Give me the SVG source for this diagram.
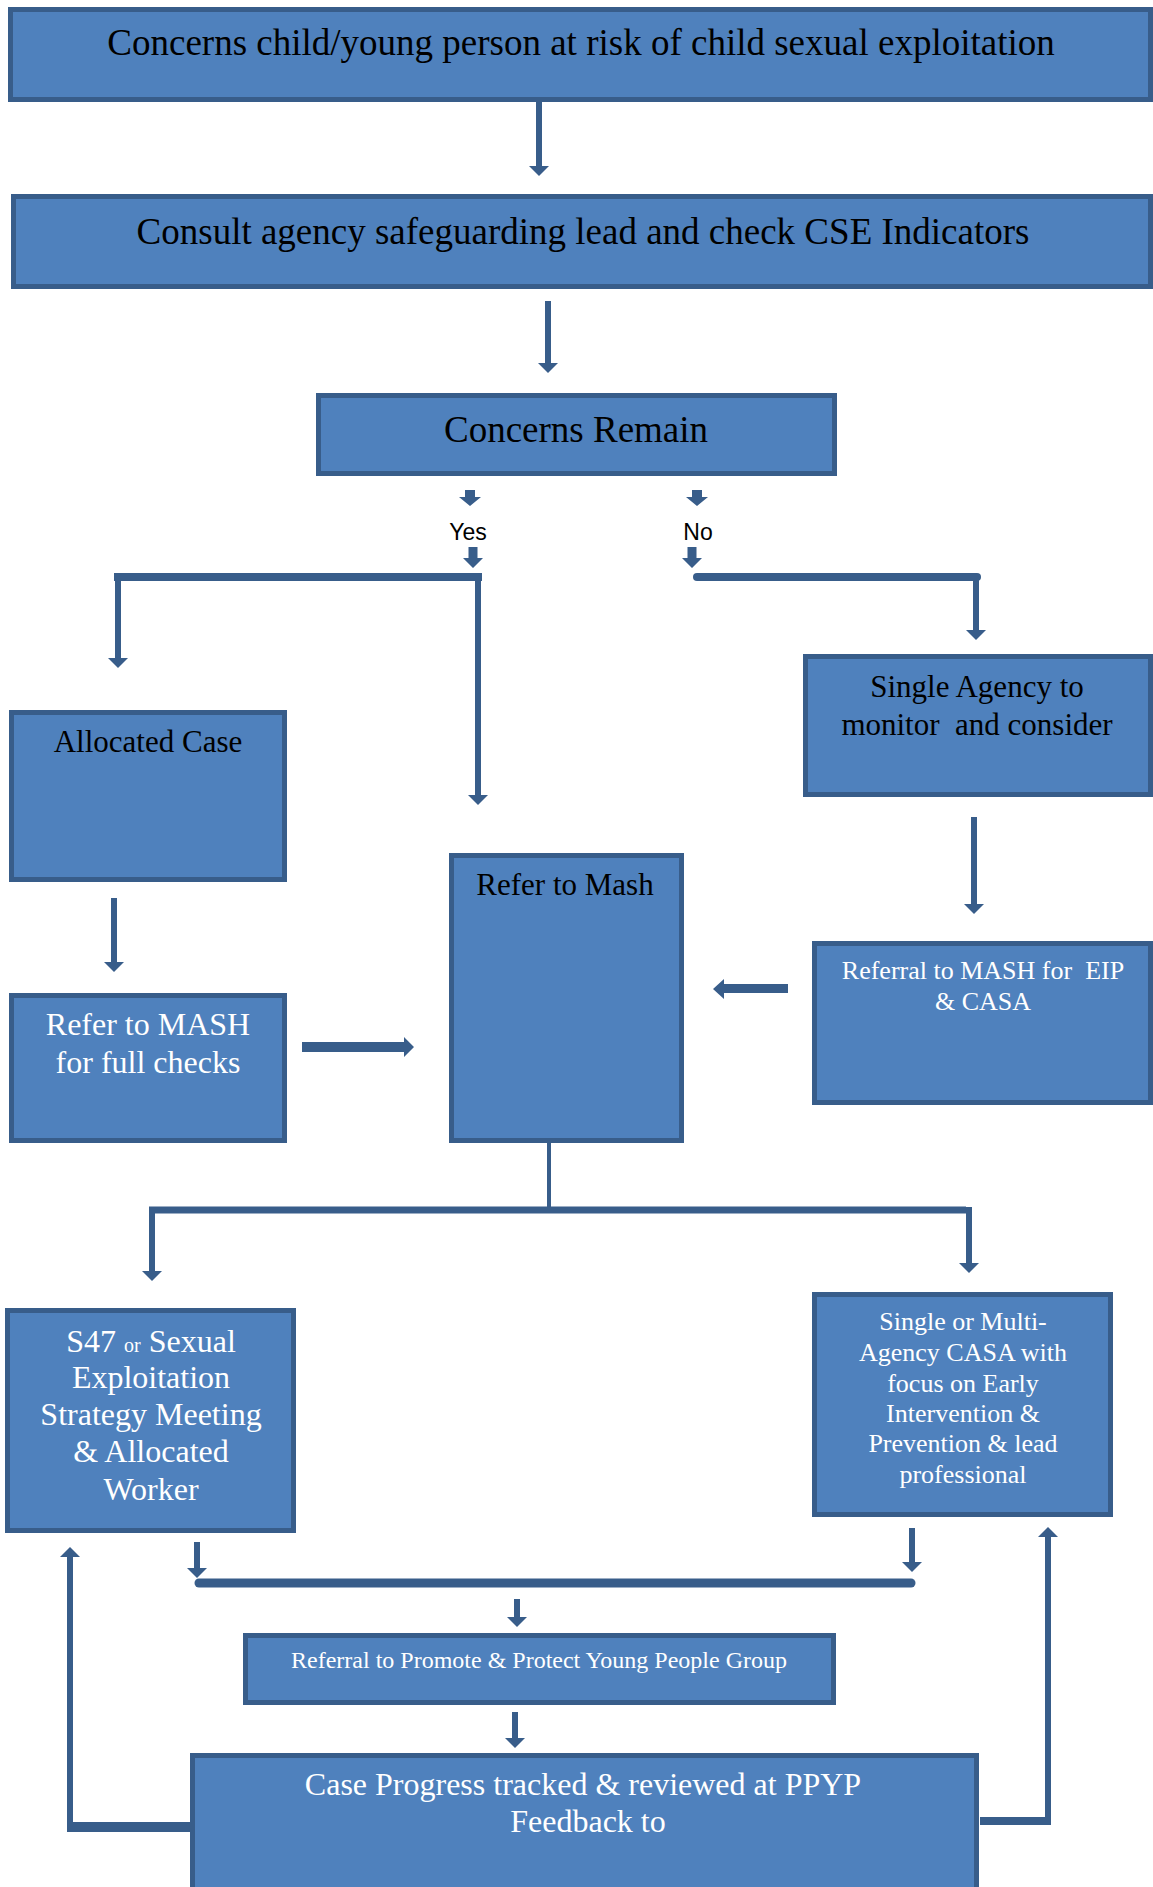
<svg xmlns="http://www.w3.org/2000/svg" width="1153" height="1887" viewBox="0 0 1153 1887">
<defs>
<style>
.box{fill:#4F81BD;stroke:#385D8A;stroke-width:5}
.tb{font-family:"Liberation Serif","Times New Roman",serif;fill:#000;text-anchor:middle}
.tw{font-family:"Liberation Serif","Times New Roman",serif;fill:#fff;text-anchor:middle}
.ts{font-family:"Liberation Sans",Arial,sans-serif;fill:#000;text-anchor:middle}
.ln{stroke:#385D8A;stroke-width:6;fill:none}
.bar{stroke:#385D8A;fill:none}
.fillc{fill:#385D8A}
</style>
<marker id="ah" viewBox="0 0 10 20" refX="0" refY="10" markerWidth="10" markerHeight="20" markerUnits="userSpaceOnUse" orient="auto">
<path d="M0,0 L10,10 L0,20 z" fill="#385D8A"/>
</marker>
</defs>
<rect width="1153" height="1887" fill="#fff"/>

<g id="connectors">
<line class="ln" x1="539" y1="102" x2="539" y2="166" marker-end="url(#ah)"/>
<line class="ln" x1="548" y1="301" x2="548" y2="363" marker-end="url(#ah)"/>
<polygon class="fillc" points="465,490 475,490 475,497 481,497 470,506 459,497 465,497"/>
<polygon class="fillc" points="692,490 702,490 702,497 708,497 697,506 686,497 692,497"/>
<polygon class="fillc" points="468.5,547 477.5,547 477.5,558 483,558 473,568 463,558 468.5,558"/>
<polygon class="fillc" points="687.5,547 696.5,547 696.5,558 702,558 692,568 682,558 687.5,558"/>
<path class="bar" stroke-width="8" d="M114,577 H482"/>
<line class="ln" x1="118" y1="573" x2="118" y2="658" marker-end="url(#ah)"/>
<line class="ln" x1="478" y1="573" x2="478" y2="795" marker-end="url(#ah)"/>
<path class="bar" stroke-width="8" stroke-linecap="round" d="M697,577 H977"/>
<line class="ln" x1="976" y1="577" x2="976" y2="630" marker-end="url(#ah)"/>
<line class="ln" x1="974" y1="817" x2="974" y2="904" marker-end="url(#ah)"/>
<line class="ln" x1="114" y1="898" x2="114" y2="962" marker-end="url(#ah)"/>
<polygon class="fillc" points="302,1042 404,1042 404,1037 414,1047 404,1057 404,1052 302,1052"/>
<polygon class="fillc" points="788,984 724,984 724,979 713,989 724,999 724,993 788,993"/>
<line class="bar" stroke-width="4" x1="549" y1="1143" x2="549" y2="1210"/>
<path class="bar" stroke-width="7" d="M149,1210 H966"/>
<line class="ln" x1="152" y1="1207" x2="152" y2="1271" marker-end="url(#ah)"/>
<line class="ln" x1="969" y1="1207" x2="969" y2="1263" marker-end="url(#ah)"/>
<line class="ln" x1="197" y1="1542" x2="197" y2="1568" marker-end="url(#ah)"/>
<line class="ln" x1="912" y1="1528" x2="912" y2="1562" marker-end="url(#ah)"/>
<path class="bar" stroke-width="9" stroke-linecap="round" d="M199,1583 H911"/>
<line class="ln" x1="517" y1="1599" x2="517" y2="1617" marker-end="url(#ah)"/>
<line class="ln" x1="515" y1="1712" x2="515" y2="1738" marker-end="url(#ah)"/>
<path class="bar" stroke-width="10" d="M192,1827 H70"/>
<line class="ln" x1="70" y1="1832" x2="70" y2="1557" marker-end="url(#ah)"/>
<path class="bar" stroke-width="8" d="M980,1821 H1051"/>
<line class="ln" x1="1048" y1="1825" x2="1048" y2="1537" marker-end="url(#ah)"/>
<text class="ts" x="468" y="540" font-size="23">Yes</text>
<text class="ts" x="698" y="540" font-size="23">No</text>
</g>

<g id="n1">
<rect class="box" x="10.5" y="9.5" width="1140" height="90"/>
<text class="tb" x="581" y="55" font-size="37">Concerns child/young person at risk of child sexual exploitation</text>
</g>
<g id="n2">
<rect class="box" x="13.5" y="196.5" width="1137" height="90"/>
<text class="tb" x="583" y="244" font-size="37">Consult agency safeguarding lead and check CSE Indicators</text>
</g>
<g id="n3">
<rect class="box" x="318.5" y="395.5" width="516" height="78"/>
<text class="tb" x="576" y="442" font-size="37">Concerns Remain</text>
</g>
<g id="n4">
<rect class="box" x="11.5" y="712.5" width="273" height="167"/>
<text class="tb" x="148" y="752" font-size="31">Allocated Case</text>
</g>
<g id="n5">
<rect class="box" x="805.5" y="656.5" width="345" height="138"/>
<text class="tb" x="977" y="697" font-size="31" xml:space="preserve">Single Agency to</text>
<text class="tb" x="977" y="735" font-size="31" xml:space="preserve">monitor  and consider</text>
</g>
<g id="n6">
<rect class="box" x="451.5" y="855.5" width="230" height="285"/>
<text class="tb" x="565" y="895" font-size="31">Refer to Mash</text>
</g>
<g id="n7">
<rect class="box" x="11.5" y="995.5" width="273" height="145"/>
<text class="tw" x="148" y="1035" font-size="32">Refer to MASH</text>
<text class="tw" x="148" y="1073" font-size="32">for full checks</text>
</g>
<g id="n8">
<rect class="box" x="814.5" y="943.5" width="336" height="159"/>
<text class="tw" x="983" y="979" font-size="26" xml:space="preserve">Referral to MASH for  EIP</text>
<text class="tw" x="983" y="1010" font-size="26">&amp; CASA</text>
</g>
<g id="n9">
<rect class="box" x="7.5" y="1310.5" width="286" height="220"/>
<text class="tw" x="151" y="1352" font-size="32">S47 <tspan font-size="20">or</tspan> Sexual</text>
<text class="tw" x="151" y="1388" font-size="32">Exploitation</text>
<text class="tw" x="151" y="1425" font-size="32">Strategy Meeting</text>
<text class="tw" x="151" y="1462" font-size="32">&amp; Allocated</text>
<text class="tw" x="151" y="1500" font-size="32">Worker</text>
</g>
<g id="n10">
<rect class="box" x="814.5" y="1294.5" width="296" height="220"/>
<text class="tw" x="963" y="1330" font-size="26">Single or Multi-</text>
<text class="tw" x="963" y="1361" font-size="26">Agency CASA with</text>
<text class="tw" x="963" y="1392" font-size="26">focus on Early</text>
<text class="tw" x="963" y="1422" font-size="26">Intervention &amp;</text>
<text class="tw" x="963" y="1452" font-size="26">Prevention &amp; lead</text>
<text class="tw" x="963" y="1483" font-size="26">professional</text>
</g>
<g id="n11">
<rect class="box" x="245.5" y="1635.5" width="588" height="67"/>
<text class="tw" x="539" y="1668" font-size="24">Referral to Promote &amp; Protect Young People Group</text>
</g>
<g id="n12">
<rect class="box" x="192.5" y="1755.5" width="784" height="140"/>
<text class="tw" x="583" y="1795" font-size="32">Case Progress tracked &amp; reviewed at PPYP</text>
<text class="tw" x="588" y="1832" font-size="32">Feedback to</text>
</g>
</svg>
